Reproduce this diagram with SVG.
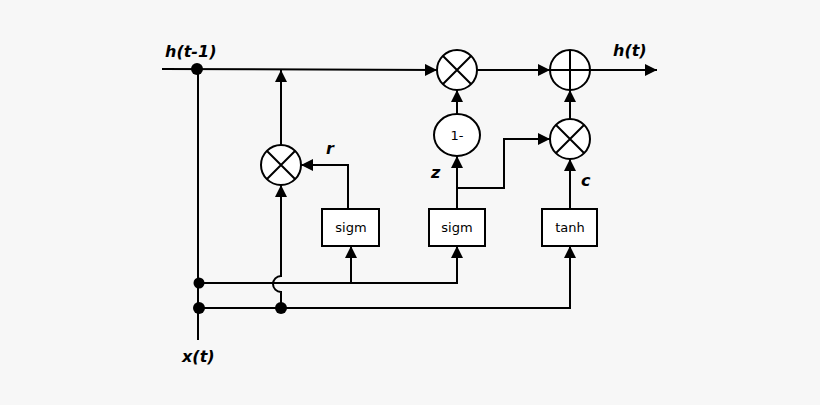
<svg xmlns="http://www.w3.org/2000/svg" width="820" height="405" viewBox="0 0 820 405">
<style>
.l{fill:none;stroke:#000;stroke-width:2}
.n{fill:#fff;stroke:#000;stroke-width:2}
.t{font-family:"DejaVu Sans",sans-serif;font-size:16px;font-weight:bold;font-style:italic}
.b{font-family:"DejaVu Sans",sans-serif;font-size:13px;text-anchor:middle}
</style>
<defs><marker id="a" viewBox="0 0 10 10" refX="10" refY="5" markerWidth="6" markerHeight="6" orient="auto" markerUnits="strokeWidth"><path d="M0,0L10,5L0,10z"/></marker></defs>
<rect width="820" height="405" fill="#f7f7f7"/>
<g id="connectors">
<path class="l" d="M162,69L437,70" marker-end="url(#a)"/>
<path class="l" d="M198,69V340"/>
<path class="l" d="M281,145V70" marker-end="url(#a)"/>
<path class="l" d="M348,209V165H301" marker-end="url(#a)"/>
<path class="l" d="M199,283H457V246" marker-end="url(#a)"/>
<path class="l" d="M351,283V246" marker-end="url(#a)"/>
<path class="l" d="M199,308H570V246" marker-end="url(#a)"/>
<path class="l" d="M281,308V292A8,8 0 0 1 281,276L281,185" marker-end="url(#a)"/>
<path class="l" d="M457,209V156" marker-end="url(#a)"/>
<path class="l" d="M457,188H504V139H550" marker-end="url(#a)"/>
<path class="l" d="M457,114V90" marker-end="url(#a)"/>
<path class="l" d="M477,70H550" marker-end="url(#a)"/>
<path class="l" d="M590,70H657" marker-end="url(#a)"/>
<path class="l" d="M570,209V159" marker-end="url(#a)"/>
<path class="l" d="M570,119V90" marker-end="url(#a)"/>
<circle cx="197" cy="69" r="6"/><circle cx="199" cy="283" r="5.5"/><circle cx="199" cy="308" r="6"/><circle cx="281" cy="308" r="6"/>
</g>
<g id="mr"><circle class="n" cx="281" cy="165" r="20"/><path class="l" d="M267,151L295,179M295,151L267,179"/></g>
<g id="mtop"><circle class="n" cx="457" cy="70" r="20"/><path class="l" d="M443,56L471,84M471,56L443,84"/></g>
<g id="plus"><circle class="n" cx="570" cy="70" r="20"/><path class="l" d="M570,50V90M550,70H590"/></g>
<g id="mc"><circle class="n" cx="570" cy="139" r="20"/><path class="l" d="M556,125L584,153M584,125L556,153"/></g>
<g id="one"><ellipse class="n" cx="457" cy="135" rx="23" ry="21"/><text class="b" x="457" y="140">1-</text></g>
<g id="sr"><rect class="n" x="322" y="209" width="57" height="37"/><text class="b" x="351" y="232">sigm</text></g>
<g id="sz"><rect class="n" x="429" y="209" width="56" height="37"/><text class="b" x="457" y="232">sigm</text></g>
<g id="th"><rect class="n" x="542" y="209" width="55" height="37"/><text class="b" x="570" y="232">tanh</text></g>
<text class="t" x="165" y="57">h(t-1)</text>
<text class="t" x="613" y="56">h(t)</text>
<text class="t" x="326" y="154">r</text>
<text class="t" x="431" y="178">z</text>
<text class="t" x="581" y="186">c</text>
<text class="t" x="182" y="362">x(t)</text>
</svg>
